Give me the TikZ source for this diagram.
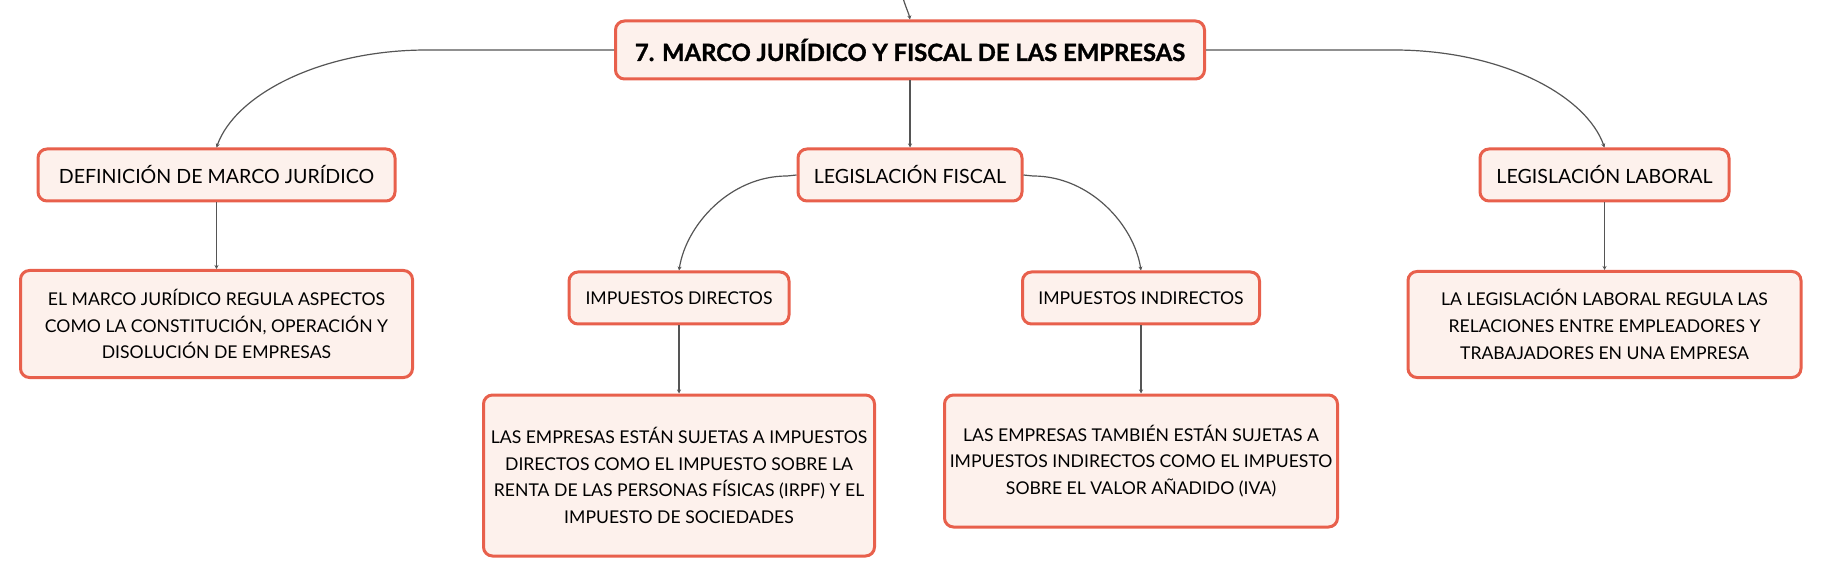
\documentclass[tikz,border=0pt]{standalone}
\usepackage{fontspec}
\setmainfont{Lato}
\newfontfamily\titlefont{Lato}[BoldFeatures={FakeBold=1.2}]
\usetikzlibrary{arrows.meta}
\definecolor{boxline}{HTML}{E8604C}
\definecolor{boxfill}{HTML}{FDF1EC}
\definecolor{linkgray}{HTML}{555555}
\begin{document}
\begin{tikzpicture}[x=1pt,y=-1pt,
  box/.style={draw=boxline, fill=boxfill, line width=3pt, rounded corners=9pt,
    align=center, inner sep=0pt, text=black, font=\fontsize{17.6}{26.7}\selectfont},
  labelbox/.style={box, font=\fontsize{19.6}{24}\selectfont},
  titlebox/.style={box, font=\titlefont\fontsize{23.8}{28}\selectfont\bfseries},
  link/.style={draw=linkgray, line width=1.2pt, -{Stealth[length=4pt,width=4pt]}}]
\useasboundingbox (0,0) rectangle (1821,577);

\node[titlebox, minimum width=589pt, minimum height=58pt] (title) at (910,50)
  {7. MARCO JURÍDICO Y FISCAL DE LAS EMPRESAS};

\node[labelbox, minimum width=357pt, minimum height=52pt] (def) at (216.5,175) {DEFINICIÓN DE MARCO JURÍDICO};
\node[labelbox, minimum width=224pt, minimum height=52pt] (fis) at (910,175) {LEGISLACIÓN FISCAL};
\node[labelbox, minimum width=249pt, minimum height=52pt] (lab) at (1604.5,175) {LEGISLACIÓN LABORAL};

\node[box, minimum width=392pt, minimum height=107pt] (marco) at (216.5,324)
  {EL MARCO JURÍDICO REGULA ASPECTOS\\COMO LA CONSTITUCIÓN, OPERACIÓN Y\\DISOLUCIÓN DE EMPRESAS};
\node[box, minimum width=220pt, minimum height=52pt] (dir) at (679,298) {IMPUESTOS DIRECTOS};
\node[box, minimum width=237pt, minimum height=52pt] (ind) at (1141,298) {IMPUESTOS INDIRECTOS};
\node[box, minimum width=393pt, minimum height=106pt] (labtext) at (1604.5,324.5)
  {LA LEGISLACIÓN LABORAL REGULA LAS\\RELACIONES ENTRE EMPLEADORES Y\\TRABAJADORES EN UNA EMPRESA};

\node[box, minimum width=391pt, minimum height=161pt] (dirtext) at (679,475.5)
  {LAS EMPRESAS ESTÁN SUJETAS A IMPUESTOS\\DIRECTOS COMO EL IMPUESTO SOBRE LA\\RENTA DE LAS PERSONAS FÍSICAS (IRPF) Y EL\\IMPUESTO DE SOCIEDADES};
\node[box, minimum width=393pt, minimum height=132pt] (indtext) at (1141,461)
  {LAS EMPRESAS TAMBIÉN ESTÁN SUJETAS A\\IMPUESTOS INDIRECTOS COMO EL IMPUESTO\\SOBRE EL VALOR AÑADIDO (IVA)};

% connectors
\coordinate (up) at (903,-2);
\draw[link] (up) .. controls (906,8) and (909,14) .. (title.north);

\coordinate (lh) at (427,50);
\coordinate (rh) at (1394,50);
\draw[link] (title.west) -- (lh) .. controls (320,50) and (235,95) .. (def.north);
\draw[link] (title.east) -- (rh) .. controls (1501,50) and (1586,95) .. (lab.north);
\draw[link] (title.south) -- (fis.north);

\coordinate (fl) at (787,176);
\coordinate (fr) at (1033,176);
\draw[link] (fis.west) -- (fl) .. controls (730,176) and (686,225) .. (dir.north);
\draw[link] (fis.east) -- (fr) .. controls (1090,176) and (1134,225) .. (ind.north);

\draw[link] (def.south) -- (marco.north);
\draw[link] (lab.south) -- (labtext.north);
\draw[link] (dir.south) -- (dirtext.north);
\draw[link] (ind.south) -- (indtext.north);
\end{tikzpicture}
\end{document}
